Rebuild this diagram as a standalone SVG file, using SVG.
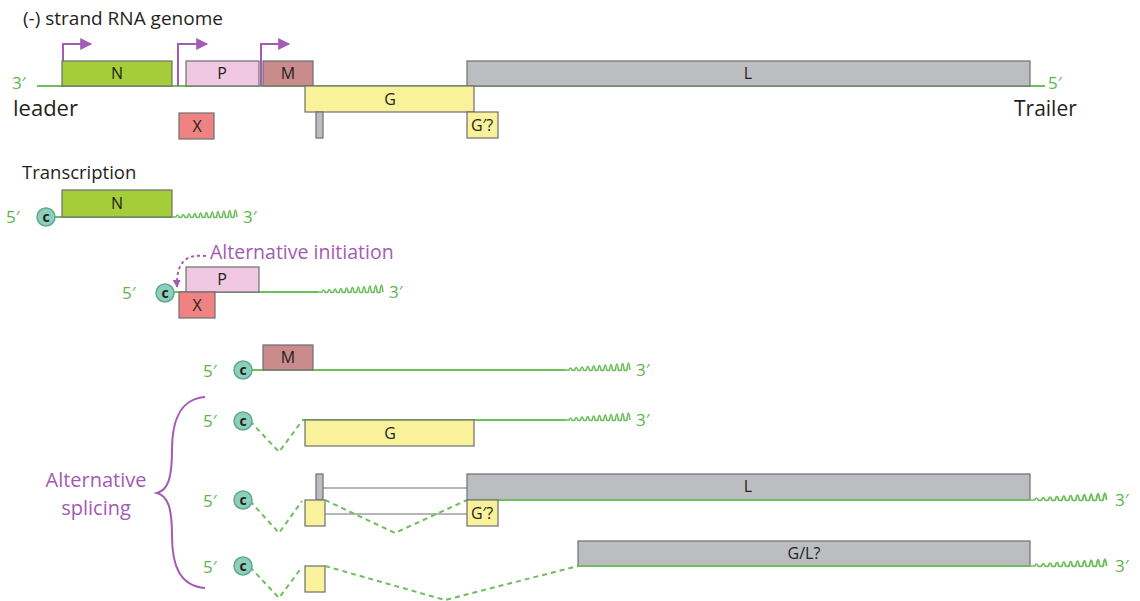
<svg xmlns="http://www.w3.org/2000/svg" width="1140" height="601" viewBox="0 0 1140 601">
<style>
text{font-family:"Open Sans","Liberation Sans",sans-serif;}
.lbl{font-size:16px;fill:#231f20;text-anchor:middle;}
.g5{font-size:17px;fill:#5cb54a;}
.ln{stroke:#6cbf5c;stroke-width:2;fill:none;}
.dash{stroke:#6cbf5c;stroke-width:2;fill:none;stroke-dasharray:5,4;}
.box{stroke:#6d6e71;stroke-width:1.2;}
.N{fill:#a5cd39;}
.P{fill:#f0c8e2;}
.M{fill:#c98b8b;}
.L{fill:#bcbdc1;}
.G{fill:#f9f29b;}
.X{fill:#ef8383;}
.pur{stroke:#a35bb4;stroke-width:2;fill:none;}
.cap{fill:#8dcfbb;stroke:#5fa895;stroke-width:1.5;}
.capt{font-size:14px;fill:#231f20;text-anchor:middle;font-weight:bold;}
.gl{stroke:#6d6e71;stroke-width:1.2;fill:none;}
</style>
<defs>
<marker id="ah" viewBox="0 0 10 10" refX="9" refY="5" markerWidth="13" markerHeight="12" markerUnits="userSpaceOnUse" orient="auto"><path d="M0,0 L10,5 L0,10 z" fill="#a35bb4"/></marker>
<marker id="ah2" viewBox="0 0 10 10" refX="9" refY="5" markerWidth="8" markerHeight="8" markerUnits="userSpaceOnUse" orient="auto"><path d="M0,0 L10,5 L0,10 z" fill="#a35bb4"/></marker>
<path id="wave" d="M0,0 h4 q1.45,-4 2.9,0 q1.45,1 2.9,0 q1.45,-5 2.9,0 q1.45,1 2.9,0 q1.45,-6 2.9,0 q1.45,1 2.9,0 q1.45,-7 2.9,0 q1.45,1 2.9,0 q1.45,-8 2.9,0 q1.45,1 2.9,0 q1.45,-9 2.9,0 q1.45,1 2.9,0 q1.45,-10 2.9,0 q1.45,1 2.9,0 q1.45,-11 2.9,0 q1.45,1 2.9,0 q1.45,-12 2.9,0 q1.45,1 2.9,0 q1.45,-13 2.9,0 q1.45,1 2.9,0 q1.45,-14 2.9,0" fill="none" stroke="#6cbf5c" stroke-width="1.6"/>
<g id="capg"><circle class="cap" cx="0" cy="0" r="9"/><text class="capt" x="0" y="5">c</text></g>
</defs>

<!-- genome -->
<g id="genome">
<text x="23" y="25" font-size="19" fill="#231f20">(-) strand RNA genome</text>
<line class="ln" x1="37" y1="86" x2="1045" y2="86"/>
<text class="g5" x="12" y="89">3′</text>
<text class="g5" x="1048" y="89">5′</text>
<text x="13" y="116" font-size="22" fill="#231f20">leader</text>
<text x="1014" y="116" font-size="21" fill="#231f20">Trailer</text>
</g>
<g id="promoters">
<path class="pur" d="M63,61 V44 H91" marker-end="url(#ah)"/>
<path class="pur" d="M178,86 V44 H207" marker-end="url(#ah)"/>
<path class="pur" d="M261,86 V44 H289" marker-end="url(#ah)"/>
</g>
<g id="gN"><rect class="box N" x="62" y="61" width="110" height="25"/><text class="lbl" x="117" y="79">N</text></g>
<g id="gP"><rect class="box P" x="186" y="61" width="73" height="25"/><text class="lbl" x="222" y="79">P</text></g>
<g id="gM"><rect class="box M" x="263" y="61" width="50" height="25"/><text class="lbl" x="288" y="79">M</text></g>
<g id="gL"><rect class="box L" x="467" y="61" width="563" height="25"/><text class="lbl" x="748" y="79">L</text></g>
<g id="gG"><rect class="box G" x="305" y="86" width="169" height="26"/><text class="lbl" x="390" y="105">G</text></g>
<g id="gbar"><rect class="box L" x="316" y="112" width="7" height="26"/></g>
<g id="gX"><rect class="box X" x="179" y="113" width="35" height="26"/><text class="lbl" x="197" y="132">X</text></g>
<g id="gGp"><rect class="box G" x="467" y="112" width="31" height="26"/><text class="lbl" x="482" y="131">G′?</text></g>

<text x="22" y="179" font-size="18.5" fill="#231f20">Transcription</text>

<!-- row 1: N mRNA -->
<g id="r1">
<text class="g5" x="6" y="223">5′</text>
<line class="ln" x1="46" y1="217" x2="172" y2="217"/>
<rect class="box N" x="62" y="190" width="110" height="27"/><text class="lbl" x="117" y="209">N</text>
<use href="#wave" x="172" y="217"/>
<text class="g5" x="243" y="223">3′</text>
<use href="#capg" x="46" y="217"/>
</g>

<!-- row 2: P/X -->
<g id="r2">
<text x="210" y="259" font-size="19.5" fill="#a35bb4">Alternative initiation</text>
<path d="M206,256 C188,254 176,260 177,287" stroke="#a35bb4" stroke-width="2" fill="none" stroke-dasharray="3,3" marker-end="url(#ah2)"/>
<text class="g5" x="122" y="299">5′</text>
<line class="ln" x1="166" y1="292" x2="318" y2="292"/>
<rect class="box P" x="186" y="267" width="73" height="25"/><text class="lbl" x="222" y="285">P</text>
<rect class="box X" x="179" y="292" width="36" height="26"/><text class="lbl" x="197" y="311">X</text>
<use href="#wave" x="318" y="292"/>
<text class="g5" x="389" y="298">3′</text>
<use href="#capg" x="165" y="293"/>
</g>

<!-- row 3: M -->
<g id="r3">
<text class="g5" x="203" y="377">5′</text>
<line class="ln" x1="243" y1="370" x2="565" y2="370"/>
<rect class="box M" x="263" y="345" width="50" height="25"/><text class="lbl" x="288" y="363">M</text>
<use href="#wave" x="565" y="370"/>
<text class="g5" x="636" y="376">3′</text>
<use href="#capg" x="243" y="370"/>
</g>

<!-- brace -->
<g id="brace">
<path class="pur" d="M205,397 C180,399 172,420 172,450 C172,478 168,490 157,493 C168,496 172,508 172,536 C172,566 180,586 205,588"/>
<text x="96" y="487" font-size="20" fill="#a35bb4" text-anchor="middle">Alternative</text>
<text x="96" y="515" font-size="20" fill="#a35bb4" text-anchor="middle">splicing</text>
</g>

<!-- row 4: G -->
<g id="r4">
<text class="g5" x="203" y="427">5′</text>
<path class="dash" d="M250,421 L279,452 L302,421"/>
<line class="ln" x1="302" y1="420" x2="565" y2="420"/>
<rect class="box G" x="305" y="420" width="169" height="26"/><text class="lbl" x="390" y="439">G</text>
<use href="#wave" x="565" y="420"/>
<text class="g5" x="636" y="426">3′</text>
<use href="#capg" x="243" y="421"/>
</g>

<!-- row 5: L / G'? -->
<g id="r5">
<text class="g5" x="203" y="507">5′</text>
<path class="dash" d="M250,501 L279,533 L302,501"/>
<line class="gl" x1="323" y1="488" x2="467" y2="488"/>
<line class="gl" x1="325" y1="514" x2="467" y2="514"/>
<rect class="box L" x="316" y="474" width="7" height="26"/>
<rect class="box G" x="305" y="500" width="20" height="26"/>
<path class="dash" d="M325,500 L395,533 L467,500"/>
<rect class="box L" x="467" y="474" width="563" height="26"/><text class="lbl" x="748" y="492">L</text>
<line class="ln" x1="467" y1="500" x2="1030" y2="500"/>
<rect class="box G" x="467" y="500" width="31" height="26"/><text class="lbl" x="482" y="519">G′?</text>
<use href="#wave" transform="translate(1030,500) scale(1.18,1)"/>
<text class="g5" x="1115" y="506">3′</text>
<use href="#capg" x="243" y="500"/>
</g>

<!-- row 6: G/L? -->
<g id="r6">
<text class="g5" x="203" y="573">5′</text>
<path class="dash" d="M250,567 L279,598 L302,567"/>
<rect class="box G" x="305" y="566" width="20" height="26"/>
<path class="dash" d="M325,566 L445,600 L578,566"/>
<rect class="box L" x="578" y="541" width="452" height="25"/><text class="lbl" x="804" y="559">G/L?</text>
<line class="ln" x1="578" y1="566" x2="1030" y2="566"/>
<use href="#wave" transform="translate(1030,566) scale(1.18,1)"/>
<text class="g5" x="1115" y="572">3′</text>
<use href="#capg" x="243" y="566"/>
</g>
</svg>
